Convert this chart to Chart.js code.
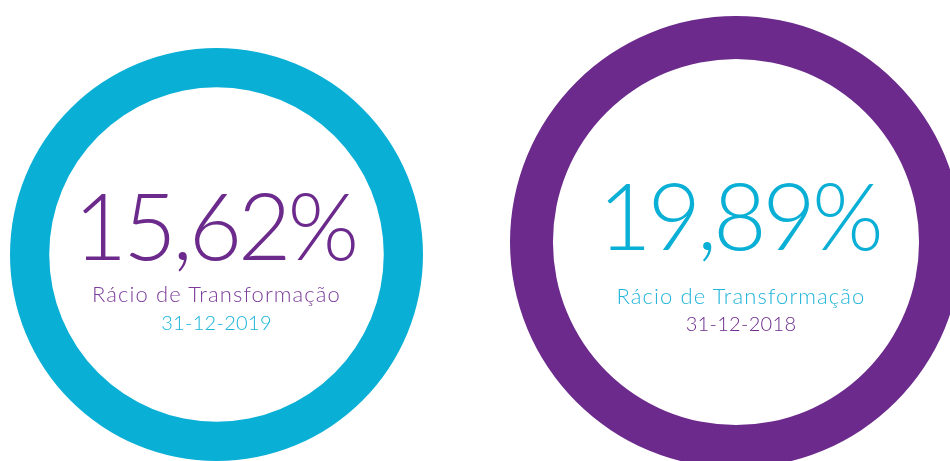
<!DOCTYPE html>
<html>
<head>
<meta charset="utf-8">
<script src="https://cdn.jsdelivr.net/npm/chart.js@4"></script>
<style>
  html, body { margin: 0; padding: 0; background: #fff; width: 950px; height: 461px; overflow: hidden; }
  .ring { position: absolute; }
  .lbl { position: absolute; text-align: center; font-family: Lato, "Open Sans", sans-serif; font-weight: 300; white-space: nowrap; }
  .big { font-size: 92px; line-height: 1; letter-spacing: -4px; text-indent: -4px; }
  .sub { font-size: 22px; line-height: 1; letter-spacing: 1.1px; }
  .date { font-size: 20px; line-height: 1; letter-spacing: 0.3px; }
</style>
</head>
<body>
<div class="ring" style="left:10px;top:48px;width:413px;height:413px"><canvas id="c0"></canvas></div>
<div class="ring" style="left:510px;top:16px;width:452px;height:452px"><canvas id="c1"></canvas></div>

<div class="lbl big" style="left:0;width:433px;top:179px;color:#6c2b8c">15,62%</div>
<div class="lbl sub" style="left:0;width:433px;top:283px;color:#7c3c9a">Rácio de Transformação</div>
<div class="lbl date" style="left:0;width:433px;top:312px;color:#1ab4da">31-12-2019</div>

<div class="lbl big" style="left:500px;width:482px;top:169px;color:#0aafd6">19,89%</div>
<div class="lbl sub" style="left:500px;width:482px;top:285px;color:#22b5da">Rácio de Transformação</div>
<div class="lbl date" style="left:500px;width:482px;top:313px;color:#6c2b8c">31-12-2018</div>

<script>
    // values
    let rates = [15.62, 19.89],
        dates = ['31-12-2019', '31-12-2018'],
        ringColors = ['#0aafd6', '#6c2b8c'];

    rates.forEach((v, i) => {
        new Chart(document.getElementById('c' + i), {
            type: 'doughnut',
            data: {
                labels: [dates[i]],
                datasets: [{
                    data: [v],
                    backgroundColor: ringColors[i],
                    borderWidth: 0
                }]
            },
            options: {
                responsive: true,
                maintainAspectRatio: false,
                animation: false,
                cutout: '81%',
                layout: { padding: 0 },
                plugins: { legend: { display: false }, tooltip: { enabled: false } }
            }
        });
    });
</script>
</body>
</html>
